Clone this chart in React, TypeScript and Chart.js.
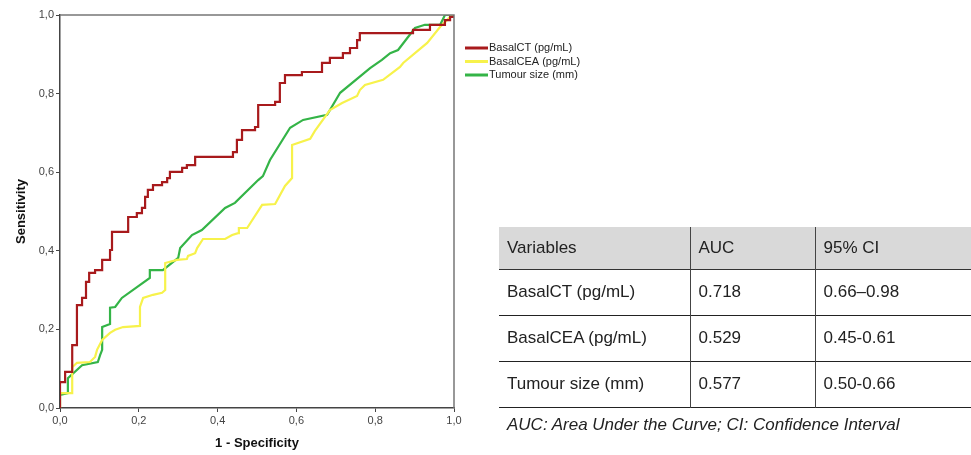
import React, { useEffect, useRef } from "react";
import { Chart, registerables } from "chart.js";

Chart.register(...registerables);

// BasalCT ROC (step vertices: x after horizontal move, y after vertical move)
const ctFpr = [0, 0.013, 0.031, 0.043, 0.056, 0.066, 0.074, 0.089, 0.107, 0.127, 0.132, 0.173, 0.195, 0.208, 0.216, 0.223, 0.236, 0.259, 0.272, 0.279, 0.31, 0.322, 0.343, 0.439, 0.449, 0.462, 0.495, 0.503, 0.546, 0.558, 0.571, 0.614, 0.665, 0.685, 0.718, 0.736, 0.754, 0.761, 0.896, 0.939, 0.977, 0.99, 1, 1];
const ctTpr = [0, 0.066, 0.092, 0.16, 0.262, 0.28, 0.321, 0.344, 0.351, 0.377, 0.402, 0.448, 0.486, 0.496, 0.509, 0.537, 0.555, 0.567, 0.575, 0.585, 0.601, 0.611, 0.618, 0.639, 0.651, 0.682, 0.707, 0.715, 0.771, 0.779, 0.827, 0.847, 0.855, 0.878, 0.891, 0.903, 0.916, 0.936, 0.954, 0.962, 0.975, 0.987, 0.995, 1];

// BasalCEA ROC
const ceaFpr = [0, 0, 0.031, 0.031, 0.043, 0.076, 0.089, 0.094, 0.107, 0.127, 0.14, 0.16, 0.203, 0.203, 0.211, 0.236, 0.259, 0.267, 0.267, 0.297, 0.322, 0.325, 0.343, 0.348, 0.363, 0.419, 0.437, 0.452, 0.454, 0.475, 0.513, 0.546, 0.571, 0.589, 0.589, 0.635, 0.647, 0.685, 0.716, 0.754, 0.761, 0.774, 0.82, 0.863, 0.871, 0.932, 0.965, 0.982, 0.995, 1];
const ceaTpr = [0, 0.038, 0.038, 0.104, 0.115, 0.117, 0.13, 0.148, 0.173, 0.191, 0.199, 0.206, 0.209, 0.257, 0.28, 0.288, 0.293, 0.3, 0.369, 0.377, 0.379, 0.387, 0.394, 0.407, 0.43, 0.43, 0.44, 0.445, 0.458, 0.458, 0.517, 0.519, 0.565, 0.585, 0.669, 0.685, 0.705, 0.758, 0.776, 0.794, 0.809, 0.822, 0.835, 0.868, 0.878, 0.929, 0.97, 0.987, 1, 1];

// Tumour size ROC
const sizeFpr = [0, 0, 0.02, 0.02, 0.056, 0.096, 0.102, 0.107, 0.107, 0.127, 0.127, 0.14, 0.157, 0.228, 0.228, 0.261, 0.3, 0.305, 0.335, 0.36, 0.419, 0.444, 0.503, 0.515, 0.533, 0.584, 0.617, 0.678, 0.711, 0.787, 0.817, 0.838, 0.858, 0.901, 0.926, 0.965, 0.977, 1];
const sizeTpr = [0, 0.033, 0.038, 0.076, 0.109, 0.117, 0.135, 0.148, 0.206, 0.214, 0.255, 0.257, 0.28, 0.331, 0.351, 0.351, 0.382, 0.407, 0.44, 0.453, 0.509, 0.522, 0.58, 0.59, 0.631, 0.713, 0.733, 0.746, 0.802, 0.865, 0.886, 0.903, 0.911, 0.967, 0.975, 0.975, 1, 1];

const seriesLabels = ["BasalCT (pg/mL)", "BasalCEA (pg/mL)", "Tumour size (mm)"];
const seriesColors = ["#a81a1c", "#f7f24b", "#34b447"];

const tableHeader = ["Variables", "AUC", "95% CI"];
const tableVariables = ["BasalCT (pg/mL)", "BasalCEA (pg/mL)", "Tumour size (mm)"];
const tableAuc = ["0.718", "0.529", "0.577"];
const tableCi = ["0.66\u20130.98", "0.45-0.61", "0.50-0.66"];
const footnote = "AUC: Area Under the Curve; CI: Confidence Interval";

const FONT = "'Liberation Sans', Arial, sans-serif";

const toPoints = (xs: number[], ys: number[]) => xs.map((x, i) => ({ x, y: ys[i] }));

const framePlugin = {
  id: "frame",
  afterDraw(chart: any) {
    const { ctx, chartArea } = chart;
    ctx.save();
    ctx.strokeStyle = "#777";
    ctx.lineWidth = 1.5;
    ctx.beginPath();
    ctx.moveTo(chartArea.left, chartArea.top);
    ctx.lineTo(chartArea.right, chartArea.top);
    ctx.lineTo(chartArea.right, chartArea.bottom);
    ctx.stroke();
    // legend
    ctx.font = `11px ${FONT}`;
    ctx.textBaseline = "middle";
    ctx.fillStyle = "#222";
    chart.data.datasets.forEach((ds: any, i: number) => {
      const y = 48 + i * 13.5;
      ctx.strokeStyle = ds.borderColor;
      ctx.lineWidth = 3;
      ctx.beginPath();
      ctx.moveTo(465, y);
      ctx.lineTo(488, y);
      ctx.stroke();
      ctx.fillText(ds.label, 489, y);
    });
    ctx.restore();
  },
};

export default function App() {
  const ref = useRef<HTMLCanvasElement>(null);

  useEffect(() => {
    if (!ref.current) return;
    const tickFmt = (v: any) => Number(v).toFixed(1).replace(".", ",");
    const chart = new Chart(ref.current, {
      type: "scatter",
      data: {
        datasets: [
          { label: seriesLabels[0], data: toPoints(ctFpr, ctTpr), borderColor: seriesColors[0], stepped: "after" as any },
          { label: seriesLabels[1], data: toPoints(ceaFpr, ceaTpr), borderColor: seriesColors[1] },
          { label: seriesLabels[2], data: toPoints(sizeFpr, sizeTpr), borderColor: seriesColors[2] },
        ].map((d) => ({ ...d, showLine: true, pointRadius: 0, borderWidth: 2.2, backgroundColor: d.borderColor, tension: 0 })),
      },
      options: {
        responsive: false,
        animation: false,
        layout: { padding: { top: 15, right: 146, left: 0, bottom: 0 } },
        plugins: { legend: { display: false }, tooltip: { enabled: false } },
        scales: {
          x: {
            type: "linear",
            min: 0,
            max: 1,
            ticks: { stepSize: 0.2, callback: tickFmt, color: "#444", font: { size: 11, family: FONT }, padding: 2 },
            grid: { drawOnChartArea: false, drawTicks: true, tickLength: 4, color: "#444" },
            border: { color: "#444", width: 1.5 },
            title: { display: true, text: "1 - Specificity", color: "#111", font: { size: 13, weight: "bold", family: FONT }, padding: { top: 7 } },
            afterFit: (s: any) => { s.height = 47; },
          },
          y: {
            type: "linear",
            min: 0,
            max: 1,
            ticks: { stepSize: 0.2, callback: tickFmt, color: "#444", font: { size: 11, family: FONT }, padding: 2 },
            grid: { drawOnChartArea: false, drawTicks: true, tickLength: 4, color: "#444" },
            border: { color: "#444", width: 1.5 },
            title: { display: true, text: "Sensitivity", color: "#111", font: { size: 13, weight: "bold", family: FONT }, padding: { top: 14, bottom: 4 } },
            afterFit: (s: any) => { s.width = 60; },
          },
        },
      } as any,
      plugins: [framePlugin],
    });
    return () => chart.destroy();
  }, []);

  const cell: React.CSSProperties = { padding: "0 0 0 8px", textAlign: "left", fontWeight: "normal" };
  const colW = [191, 125, 156];
  return (
    <div style={{ position: "fixed", left: 0, top: 0, width: 971, height: 455, background: "#fff", fontFamily: FONT }}>
      <canvas ref={ref} width={600} height={455} style={{ position: "absolute", left: 0, top: 0 }} />
      <table
        style={{ position: "absolute", left: 499, top: 227, width: 472, borderCollapse: "collapse", fontSize: 17, color: "#222", tableLayout: "fixed" }}
      >
        <colgroup>
          {colW.map((w, i) => (
            <col key={i} style={{ width: w }} />
          ))}
        </colgroup>
        <thead>
          <tr style={{ background: "#d9d9d9", height: 42, borderBottom: "1px solid #333" }}>
            {tableHeader.map((h, i) => (
              <th key={i} style={{ ...cell, borderLeft: i > 0 ? "1px solid #444" : "none" }}>{h}</th>
            ))}
          </tr>
        </thead>
        <tbody>
          {tableVariables.map((v, r) => (
            <tr key={r} style={{ height: 46, borderBottom: "1.5px solid #222" }}>
              <td style={cell}>{v}</td>
              <td style={{ ...cell, borderLeft: "1px solid #444" }}>{tableAuc[r]}</td>
              <td style={{ ...cell, borderLeft: "1px solid #444" }}>{tableCi[r]}</td>
            </tr>
          ))}
        </tbody>
      </table>
      <div style={{ position: "absolute", left: 507, top: 415, fontSize: 17, fontStyle: "italic", color: "#222" }}>{footnote}</div>
    </div>
  );
}
